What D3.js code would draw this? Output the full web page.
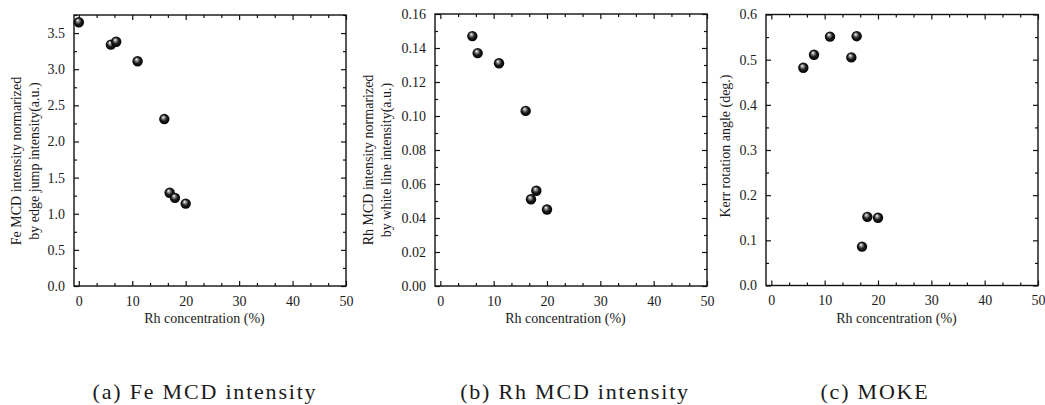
<!DOCTYPE html>
<html>
<head>
<meta charset="utf-8">
<script src="https://cdn.jsdelivr.net/npm/d3@7"></script>
<style>
  body { margin: 0; background: #fff; }
  svg { display: block; }
  svg text { font-family: "Liberation Serif", "Times New Roman", Times, "DejaVu Serif", serif !important; fill: #1a1a1a; }
</style>
</head>
<body>
<svg id="chart" width="1045" height="405"></svg>
<script>
// ---- Data ----
const feRh   = [0, 6, 7, 11, 16, 17, 18, 20];
const feMCD  = [3.65, 3.34, 3.38, 3.11, 2.31, 1.29, 1.22, 1.14];

const rhRh   = [6, 7, 11, 16, 17, 18, 20];
const rhMCD  = [0.147, 0.137, 0.131, 0.103, 0.051, 0.056, 0.045];

const mokeRh = [6, 8, 11, 15, 16, 17, 18, 20];
const kerr   = [0.482, 0.511, 0.551, 0.505, 0.552, 0.086, 0.152, 0.150];

const xTicks      = [0, 10, 20, 30, 40, 50];
const feTicks     = [0.0, 0.5, 1.0, 1.5, 2.0, 2.5, 3.0, 3.5];
const rhTicks     = [0.00, 0.02, 0.04, 0.06, 0.08, 0.10, 0.12, 0.14, 0.16];
const kerrTicks   = [0.0, 0.1, 0.2, 0.3, 0.4, 0.5, 0.6];

const xTitle = "Rh concentration (%)";
const captions = ["(a) Fe MCD intensity", "(b) Rh MCD intensity", "(c) MOKE"];

// ---- Drawing ----
const FONT = "'Liberation Serif', 'Times New Roman', Times, 'DejaVu Serif', serif";
const svg = d3.select("#chart");
const defs = svg.append("defs");
const grad = defs.append("radialGradient").attr("id", "ball")
  .attr("cx", "50%").attr("cy", "50%").attr("r", "55%")
  .attr("fx", "38%").attr("fy", "30%");
grad.append("stop").attr("offset", "0%").attr("stop-color", "#ffffff");
grad.append("stop").attr("offset", "22%").attr("stop-color", "#9a9a9a");
grad.append("stop").attr("offset", "55%").attr("stop-color", "#1a1a1a");
grad.append("stop").attr("offset", "100%").attr("stop-color", "#000000");

const panels = [
  { xs: feRh, ys: feMCD, x0: 74, x1: 346, y0: 286, y1: 15, xd: [-0.9, 50], yd: [0, 3.75],
    yt: feTicks, fmt: d3.format(".1f"), yminor: 0.25,
    ytitle: ["Fe MCD intensity normarized", "by edge jump intensity(a.u.)"],
    ytx: [21, 39], ytc: 161, cap: captions[0], capx: 205 },
  { xs: rhRh, ys: rhMCD, x0: 435, x1: 707, y0: 286, y1: 14, xd: [-1, 50], yd: [0, 0.16],
    yt: rhTicks, fmt: d3.format(".2f"), yminor: 0.01,
    ytitle: ["Rh MCD intensity normarized", "by white line intensity(a.u.)"],
    ytx: [373, 391], ytc: 160, cap: captions[1], capx: 575 },
  { xs: mokeRh, ys: kerr, x0: 766, x1: 1038, y0: 285.5, y1: 14.5, xd: [-1, 50], yd: [0, 0.6],
    yt: kerrTicks, fmt: d3.format(".1f"), yminor: 0.05,
    ytitle: ["Kerr rotation angle (deg.)"],
    ytx: [730], ytc: 146, cap: captions[2], capx: 875 }
];

panels.forEach(p => {
  const x = d3.scaleLinear().domain(p.xd).range([p.x0, p.x1]);
  const y = d3.scaleLinear().domain(p.yd).range([p.y0, p.y1]);
  const g = svg.append("g");

  const xMinor = d3.range(0, 50.01, 10 / 3).filter(v => xTicks.every(t => Math.abs(t - v) > 1e-6));
  const yMinor = d3.range(0, p.yd[1] + 1e-9, p.yminor).filter(v => p.yt.every(t => Math.abs(t - v) > 1e-9));

  const major = 5, minor = 3;
  g.append("g").attr("transform", `translate(0,${p.y0})`)
    .call(d3.axisBottom(x).tickValues(xTicks).tickSizeInner(-major).tickSizeOuter(0).tickPadding(10).tickFormat(d3.format("d")));
  g.append("g").attr("transform", `translate(0,${p.y0})`)
    .call(d3.axisBottom(x).tickValues(xMinor).tickSizeInner(-minor).tickSizeOuter(0).tickFormat(""));
  g.append("g").attr("transform", `translate(0,${p.y1})`)
    .call(d3.axisTop(x).tickValues(xTicks).tickSizeInner(-major).tickSizeOuter(0).tickFormat(""));
  g.append("g").attr("transform", `translate(0,${p.y1})`)
    .call(d3.axisTop(x).tickValues(xMinor).tickSizeInner(-minor).tickSizeOuter(0).tickFormat(""));
  g.append("g").attr("transform", `translate(${p.x0},0)`)
    .call(d3.axisLeft(y).tickValues(p.yt).tickSizeInner(-major).tickSizeOuter(0).tickPadding(9).tickFormat(p.fmt));
  g.append("g").attr("transform", `translate(${p.x0},0)`)
    .call(d3.axisLeft(y).tickValues(yMinor).tickSizeInner(-minor).tickSizeOuter(0).tickFormat(""));
  g.append("g").attr("transform", `translate(${p.x1},0)`)
    .call(d3.axisRight(y).tickValues(p.yt).tickSizeInner(-major).tickSizeOuter(0).tickFormat(""));
  g.append("g").attr("transform", `translate(${p.x1},0)`)
    .call(d3.axisRight(y).tickValues(yMinor).tickSizeInner(-minor).tickSizeOuter(0).tickFormat(""));

  g.selectAll(".domain").remove();
  g.selectAll("g").attr("font-family", FONT);
  g.selectAll(".tick line").attr("stroke", "#111").attr("stroke-width", 1.2);
  g.selectAll(".tick text").attr("font-family", FONT).style("font-family", FONT)
    .style("font-size", "14px").attr("fill", "#1a1a1a");

  g.append("rect").attr("x", p.x0).attr("y", p.y1)
    .attr("width", p.x1 - p.x0).attr("height", p.y0 - p.y1)
    .attr("fill", "none").attr("stroke", "#111").attr("stroke-width", 1.4);

  g.append("text").attr("x", (p.x0 + p.x1) / 2 - 5.5).attr("y", 323)
    .attr("text-anchor", "middle").style("font-family", FONT).style("font-size", "14px").text(xTitle);

  p.ytitle.forEach((t, i) => {
    g.append("text").attr("transform", `translate(${p.ytx[i]},${p.ytc}) rotate(-90)`)
      .attr("text-anchor", "middle").style("font-family", FONT).style("font-size", "14px").text(t);
  });

  const pts = p.xs.map((v, i) => [v, p.ys[i]]);
  g.append("g").selectAll("circle").data(pts).join("circle")
    .attr("cx", d => x(d[0])).attr("cy", d => y(d[1])).attr("r", 5.2)
    .attr("fill", "url(#ball)");

  svg.append("text").attr("x", p.capx).attr("y", 399).attr("text-anchor", "middle")
    .style("font-family", FONT).style("font-size", "22px").style("letter-spacing", "1.8px").text(p.cap);
});
</script>
</body>
</html>
